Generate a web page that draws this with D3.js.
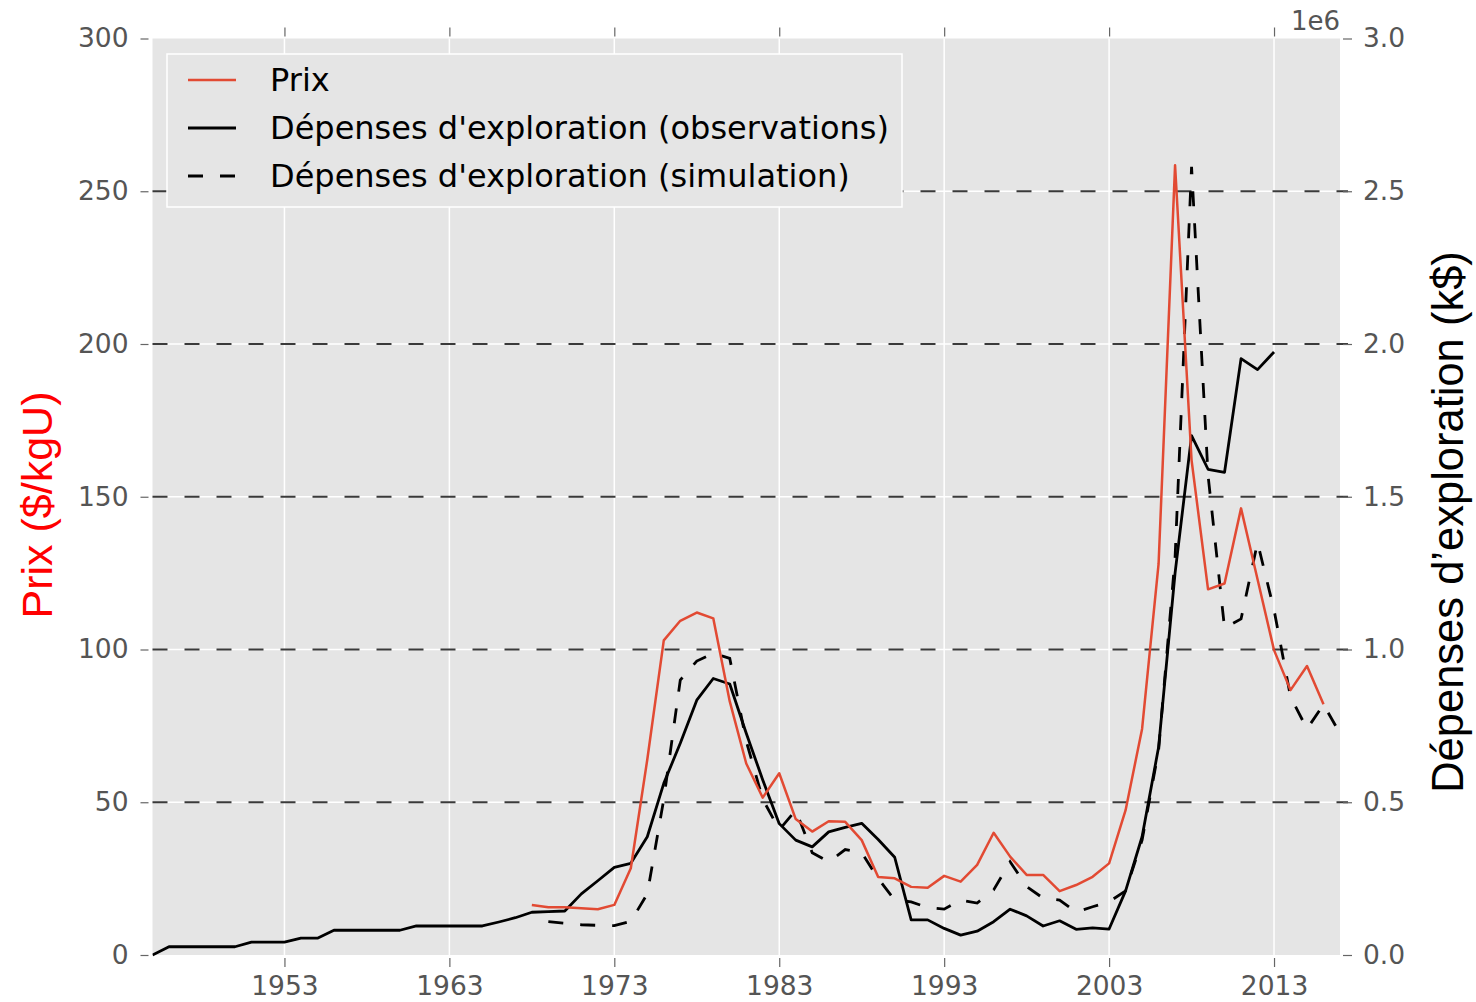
<!DOCTYPE html>
<html>
<head>
<meta charset="utf-8">
<script src="https://cdn.jsdelivr.net/npm/d3@7"></script>
<style>
  html, body { margin: 0; padding: 0; background: #fff; }
  svg { display: block; }
</style>
</head>
<body>
<svg id="chart" width="1476" height="1002"></svg>
<script>
// --- data ---
const prixYears = d3.range(1968, 2017);
const prixValues = [16.4, 15.6, 15.6, 15.3, 15.0, 16.4, 28.4, 64, 103, 109.4,
  112.1, 110.2, 83, 62.7, 51.5, 59.5, 44.5, 40.4, 43.8, 43.6,
  37.6, 25.5, 25.1, 22.3, 22.0, 25.9, 24.0, 29.5, 40.0, 32.2,
  26.2, 26.2, 20.9, 22.9, 25.6, 30.0, 47.4, 74, 128, 258.5,
  162, 119.7, 121.6, 146.2, 123, 99.8, 86.7, 94.6, 82.1];

const obsYears = d3.range(1945, 2014);
const obsValues = [0, 27000, 27000, 27000, 27000, 27000, 42000, 42000, 42000, 55000,
  55000, 81000, 81000, 81000, 81000, 81000, 95000, 95000, 95000, 95000,
  95000, 108000, 122000, 140000, 142000, 144000, 200000, 243000, 287000, 300000,
  387000, 562000, 693000, 834000, 905000, 887000, 726000, 573000, 430000, 376000,
  354000, 403000, 418000, 431000, 378000, 320000, 115000, 115000, 87000, 65000,
  78000, 109000, 150000, 128000, 95000, 112000, 84000, 89000, 85000, 210000,
  387000, 680000, 1250000, 1700000, 1590000, 1580000, 1952000, 1916000, 1974000];

const simYears = d3.range(1969, 2018);
const simValues = [109000, 104000, 99000, 97000, 96000, 110000, 200000, 510000, 900000, 962000,
  988000, 971000, 700000, 510000, 410000, 474000, 335000, 305000, 345000, 335000,
  250000, 180000, 174000, 155000, 150000, 180000, 170000, 213000, 305000, 224000,
  186000, 180000, 140000, 158000, 174000, 210000, 376000, 670000, 1300000, 2580000,
  1570000, 1070000, 1100000, 1350000, 1130000, 845000, 740000, 820000, 725000];

const xTicks = [1953, 1963, 1973, 1983, 1993, 2003, 2013];
const leftTicks = [0, 50, 100, 150, 200, 250, 300];
const rightTicks = [0, 0.5e6, 1.0e6, 1.5e6, 2.0e6, 2.5e6, 3.0e6];
const legendLabels = ["Prix", "Dépenses d'exploration (observations)", "Dépenses d'exploration (simulation)"];

// --- layout ---
const plotLeft = 152.5, plotRight = 1340, plotTop = 38.5, plotBottom = 955;
const svg = d3.select('#chart');
const tickFont = "'DejaVu Sans', sans-serif";
const red = '#E24A33';

const x = d3.scaleLinear().domain([1945, 2017]).range([plotLeft, plotRight]);
const yL = d3.scaleLinear().domain([0, 300]).range([plotBottom, plotTop]);
const yR = d3.scaleLinear().domain([0, 3e6]).range([plotBottom, plotTop]);

// background
svg.append('rect')
  .attr('x', plotLeft).attr('y', plotTop)
  .attr('width', plotRight - plotLeft).attr('height', plotBottom - plotTop)
  .attr('fill', '#e5e5e5');

// white grid
const grid = svg.append('g');
grid.selectAll('.vg').data(xTicks).join('line')
  .attr('x1', d => x(d)).attr('x2', d => x(d))
  .attr('y1', plotTop).attr('y2', plotBottom)
  .attr('stroke', '#fff').attr('stroke-width', 1.5);
grid.selectAll('.hg').data(leftTicks.slice(1, -1)).join('line')
  .attr('x1', plotLeft).attr('x2', plotRight)
  .attr('y1', d => yL(d)).attr('y2', d => yL(d))
  .attr('stroke', '#fff').attr('stroke-width', 1.5);

// dashed reference lines
grid.selectAll('.dg').data(leftTicks.slice(1, -1)).join('line')
  .attr('x1', plotLeft).attr('x2', plotRight + 8)
  .attr('y1', d => yL(d)).attr('y2', d => yL(d))
  .attr('stroke', '#3a3a3a').attr('stroke-width', 2)
  .attr('stroke-dasharray', '15,17');

// axes (ticks outside, no spine)
function styleAxis(g) {
  g.select('.domain').remove();
  g.selectAll('.tick line').attr('stroke', '#666').attr('stroke-width', 1.2);
  g.selectAll('.tick text')
    .attr('fill', '#555').style('font-family', tickFont).style('font-size', '26.5px');
}

svg.append('g').attr('transform', `translate(0,${plotBottom + 3})`)
  .call(d3.axisBottom(x).tickValues(xTicks).tickFormat(d3.format('d')).tickSize(9).tickPadding(9))
  .call(styleAxis);
svg.append('g').attr('transform', `translate(0,${plotTop - 2})`)
  .call(d3.axisTop(x).tickValues(xTicks).tickFormat('').tickSize(9))
  .call(styleAxis);
svg.append('g').attr('transform', `translate(${plotLeft - 4},0)`)
  .call(d3.axisLeft(yL).tickValues(leftTicks).tickFormat(d3.format('d')).tickSize(8).tickPadding(12))
  .call(styleAxis);
svg.append('g').attr('transform', `translate(${plotRight + 3},0)`)
  .call(d3.axisRight(yR).tickValues(rightTicks).tickFormat(d => (d / 1e6).toFixed(1)).tickSize(9).tickPadding(11))
  .call(styleAxis);

svg.append('text')
  .attr('x', plotRight).attr('y', 30)
  .attr('text-anchor', 'end')
  .attr('fill', '#555').style('font-family', tickFont).style('font-size', '26px')
  .text('1e6');

// series
svg.append('clipPath').attr('id', 'plotclip')
  .append('rect').attr('x', plotLeft).attr('y', plotTop - 5)
  .attr('width', plotRight - plotLeft).attr('height', plotBottom - plotTop + 10);

const plot = svg.append('g').attr('clip-path', 'url(#plotclip)');

const lineL = d3.line().x(d => x(d[0])).y(d => yL(d[1]));
const lineR = d3.line().x(d => x(d[0])).y(d => yR(d[1]));

plot.append('path')
  .datum(d3.zip(obsYears, obsValues))
  .attr('d', lineR).attr('fill', 'none')
  .attr('stroke', '#000').attr('stroke-width', 2.8).attr('stroke-linejoin', 'round');

plot.append('path')
  .datum(d3.zip(simYears, simValues))
  .attr('d', lineR).attr('fill', 'none')
  .attr('stroke', '#000').attr('stroke-width', 2.8)
  .attr('stroke-dasharray', '15,17');

plot.append('path')
  .datum(d3.zip(prixYears, prixValues))
  .attr('d', lineL).attr('fill', 'none')
  .attr('stroke', red).attr('stroke-width', 2.5).attr('stroke-linejoin', 'round');

// axis labels
svg.append('text')
  .attr('transform', 'translate(52,505) rotate(-90)')
  .attr('text-anchor', 'middle')
  .attr('fill', '#ff0000')
  .style('font-family', "'Liberation Sans', Arial, sans-serif").style('font-size', '43px')
  .text('Prix ($/kgU)');

svg.append('text')
  .attr('transform', 'translate(1463,522) rotate(-90)')
  .attr('text-anchor', 'middle')
  .attr('fill', '#000')
  .style('font-family', "'Liberation Sans', Arial, sans-serif").style('font-size', '43.5px')
  .text('Dépenses d’exploration (k$)');

// legend
const legend = svg.append('g');
legend.append('rect')
  .attr('x', 167).attr('y', 54).attr('width', 735).attr('height', 153)
  .attr('fill', '#e5e5e5').attr('stroke', '#fff').attr('stroke-width', 1.5);

const legendStyles = [
  { color: red, dash: null, w: 2.5 },
  { color: '#000', dash: null, w: 2.8 },
  { color: '#000', dash: '15,17', w: 2.8 }
];
const rowY = d3.scalePoint().domain(legendLabels).range([80, 176]);

legendLabels.forEach((lab, i) => {
  const yy = rowY(lab);
  legend.append('line')
    .attr('x1', 188).attr('x2', 236).attr('y1', yy).attr('y2', yy)
    .attr('stroke', legendStyles[i].color).attr('stroke-width', legendStyles[i].w)
    .attr('stroke-dasharray', legendStyles[i].dash);
  legend.append('text')
    .attr('x', 270).attr('y', yy + 11)
    .attr('fill', '#000')
    .style('font-family', tickFont).style('font-size', '32px')
    .text(lab);
});
</script>
</body>
</html>
